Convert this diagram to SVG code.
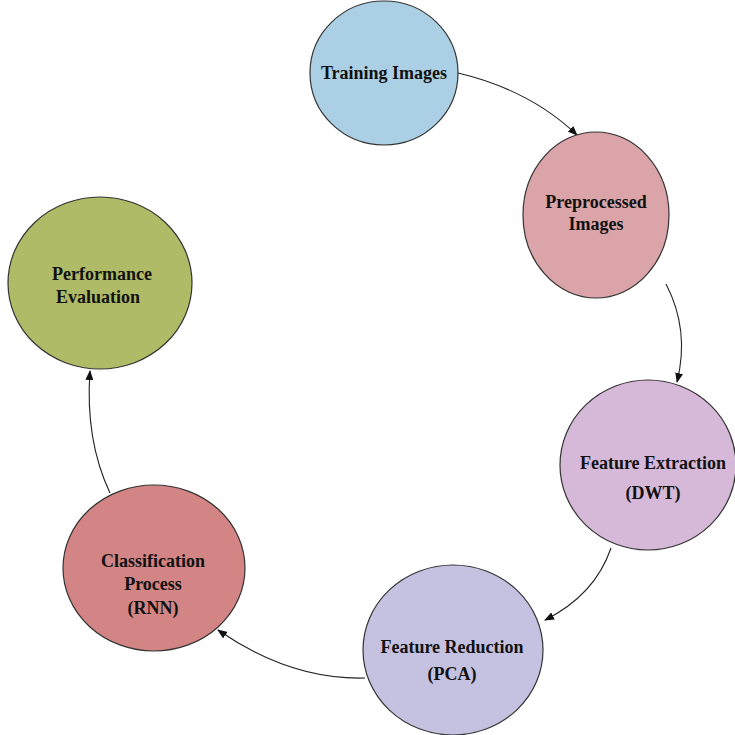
<svg xmlns="http://www.w3.org/2000/svg" width="735" height="735" viewBox="0 0 735 735">
<style>
.n{stroke:#333;stroke-width:1.2}
.t{font-family:"Liberation Serif","Times New Roman",serif;font-weight:bold;font-size:18px;fill:#111;text-anchor:middle}
.c{fill:none;stroke:#222;stroke-width:1.1}
</style>
<defs>
<marker id="ah" markerWidth="10" markerHeight="8" refX="9" refY="4" orient="auto" markerUnits="userSpaceOnUse">
<path d="M0,0 L10,4 L0,8 Z" fill="#111"/>
</marker>
</defs>
<rect width="735" height="735" fill="#fff"/>
<g id="connectors">
<path class="c" d="M458,73 Q530,90 577,135" marker-end="url(#ah)"/>
<path class="c" d="M666,284 Q690,330 677,382" marker-end="url(#ah)"/>
<path class="c" d="M611,548 Q595,595 545,620" marker-end="url(#ah)"/>
<path class="c" d="M365,678 Q290,680 218,630" marker-end="url(#ah)"/>
<path class="c" d="M110,493 Q85,440 90,371" marker-end="url(#ah)"/>
</g>
<g id="training">
<ellipse class="n" cx="384" cy="73" rx="74" ry="72" fill="#abcfe4"/>
<text class="t" x="384" y="79">Training Images</text>
</g>
<g id="preprocessed">
<ellipse class="n" cx="596" cy="215" rx="73" ry="83" fill="#dba4a8"/>
<text class="t" x="596" y="208">Preprocessed</text>
<text class="t" x="596" y="230">Images</text>
</g>
<g id="extraction">
<ellipse class="n" cx="648" cy="465" rx="88" ry="85" fill="#d6b8d8"/>
<text class="t" x="653" y="469">Feature Extraction</text>
<text class="t" x="653" y="499">(DWT)</text>
</g>
<g id="reduction">
<ellipse class="n" cx="453" cy="650" rx="90" ry="85" fill="#c5c1e0"/>
<text class="t" x="452" y="653">Feature Reduction</text>
<text class="t" x="452" y="680">(PCA)</text>
</g>
<g id="classification">
<ellipse class="n" cx="154" cy="568" rx="91" ry="83" fill="#d28584"/>
<text class="t" x="153" y="567">Classification</text>
<text class="t" x="153" y="590">Process</text>
<text class="t" x="153" y="614">(RNN)</text>
</g>
<g id="performance">
<ellipse class="n" cx="100" cy="283" rx="92" ry="86" fill="#afbb66"/>
<text class="t" x="102" y="280">Performance</text>
<text class="t" x="98" y="303">Evaluation</text>
</g>
</svg>
